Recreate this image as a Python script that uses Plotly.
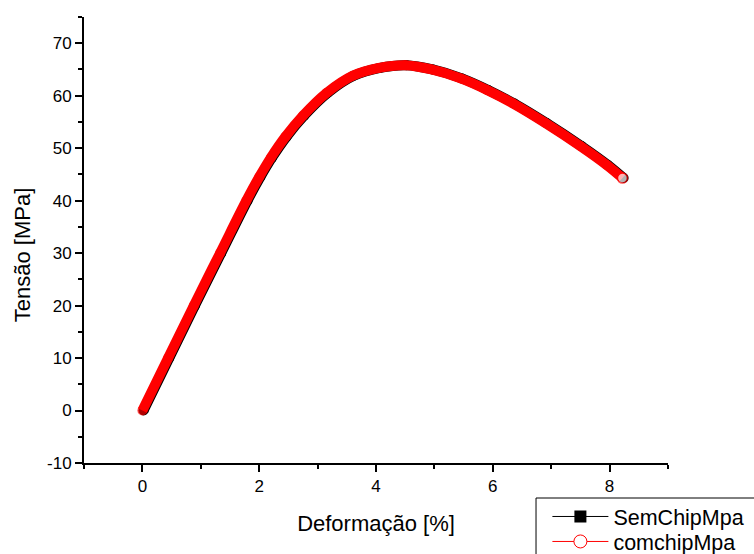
import plotly.graph_objects as go

# Stress-strain readings (strain in %, stress in MPa)
com_x = [0.0, 0.44, 0.88, 1.33, 1.78, 2.00, 2.20, 2.45, 2.75, 3.15, 3.60,
         4.05, 4.50, 4.95, 5.45, 5.90, 6.35, 6.90, 7.50, 7.95, 8.22]
com_y = [0.0, 10.0, 20.0, 30.0, 40.0, 44.5, 48.2, 52.2, 56.2, 60.5, 63.8,
         65.3, 65.8, 65.0, 63.3, 61.1, 58.5, 54.8, 50.4, 46.8, 44.3]

sem_x = [0.02, 0.46, 0.90, 1.35, 1.80, 2.02, 2.22, 2.47, 2.77, 3.17, 3.62,
         4.07, 4.52, 4.97, 5.47, 5.92, 6.37, 6.92, 7.52, 7.97, 8.24]
sem_y = [0.0, 10.0, 20.0, 30.0, 40.0, 44.5, 48.2, 52.2, 56.2, 60.5, 63.8,
         65.3, 65.8, 65.0, 63.3, 61.1, 58.5, 54.8, 50.4, 46.8, 44.3]

series_names = ["SemChipMpa", "comchipMpa"]

x_tickvals = [0, 2, 4, 6, 8]
x_ticktext = ["0", "2", "4", "6", "8"]
y_tickvals = [-10, 0, 10, 20, 30, 40, 50, 60, 70]
y_ticktext = ["-10", "0", "10", "20", "30", "40", "50", "60", "70"]

FONT = "Liberation Sans, Arial, sans-serif"
RED = "#ff0000"

fig = go.Figure()

# dense black series underneath
fig.add_trace(go.Scatter(
    x=sem_x, y=sem_y, mode="lines+markers", showlegend=False,
    line=dict(color="black", width=10, shape="spline", smoothing=1.0),
    marker=dict(symbol="circle", size=10, color="black", line=dict(width=0)),
    hoverinfo="skip",
))

# red series on top; last point drawn as an open circle
n = len(com_x)
fig.add_trace(go.Scatter(
    x=com_x, y=com_y, mode="lines+markers", showlegend=False,
    line=dict(color=RED, width=10, shape="spline", smoothing=1.0),
    marker=dict(symbol="circle",
                size=[10] * (n - 1) + [10],
                color=[RED] * (n - 1) + ["white"],
                line=dict(color=RED, width=[0] * (n - 1) + [1.5])),
    hoverinfo="skip",
))

# legend entries, one legend per row
fig.add_trace(go.Scatter(
    x=[None], y=[None], mode="lines+markers", name=series_names[0],
    line=dict(color="black", width=1),
    marker=dict(symbol="square", size=12, color="black"),
    legend="legend",
))
fig.add_trace(go.Scatter(
    x=[None], y=[None], mode="lines+markers", name=series_names[1],
    line=dict(color=RED, width=1),
    marker=dict(symbol="circle", size=13, color="white", line=dict(color=RED, width=1)),
    legend="legend2",
))

axis_common = dict(
    showline=True, linecolor="black", linewidth=2,
    ticks="outside", tickcolor="black", tickwidth=1.5, ticklen=7,
    showgrid=False, zeroline=False, mirror=False,
    tickfont=dict(family=FONT, size=17, color="black"),
    tickmode="array",
)

fig.update_xaxes(
    **axis_common, range=[-1, 9],
    tickvals=x_tickvals, ticktext=x_ticktext,
    minor=dict(tickmode="linear", tick0=-1, dtick=1, ticks="outside",
               ticklen=4, tickcolor="black", tickwidth=1.5, showgrid=False),
    title=dict(text="Deformação [%]", font=dict(family=FONT, size=22, color="black"),
               standoff=20),
)
fig.update_yaxes(
    **axis_common, range=[-10, 75],
    tickvals=y_tickvals, ticktext=y_ticktext,
    minor=dict(tickmode="linear", tick0=-10, dtick=5, ticks="outside",
               ticklen=4, tickcolor="black", tickwidth=1.5, showgrid=False),
)

# y-axis title
fig.add_annotation(
    text="Tensão [MPa]", textangle=-90, showarrow=False,
    xref="paper", yref="paper", x=-0.106, y=0.466,
    xanchor="center", yanchor="middle",
    font=dict(family=FONT, size=22, color="black"),
)

# legend frame
fig.add_shape(
    type="rect", xref="paper", yref="paper",
    x0=0.774, x1=1.3, y0=-0.0785, y1=-0.4,
    line=dict(color="black", width=1), fillcolor="white", layer="above",
)

legend_style = dict(
    xanchor="left", yanchor="top",
    bgcolor="rgba(0,0,0,0)", borderwidth=0,
    font=dict(family=FONT, size=21.5, color="black"),
    itemwidth=56, tracegroupgap=0,
)

fig.update_layout(
    width=754, height=554,
    margin=dict(l=84, r=86, t=17, b=91, autoexpand=False),
    paper_bgcolor="white", plot_bgcolor="white",
    font=dict(family=FONT, color="black"),
    legend=dict(x=0.7935, y=-0.074, **legend_style),
    legend2=dict(x=0.7935, y=-0.1300, **legend_style),
)

fig.write_html("out.html")
